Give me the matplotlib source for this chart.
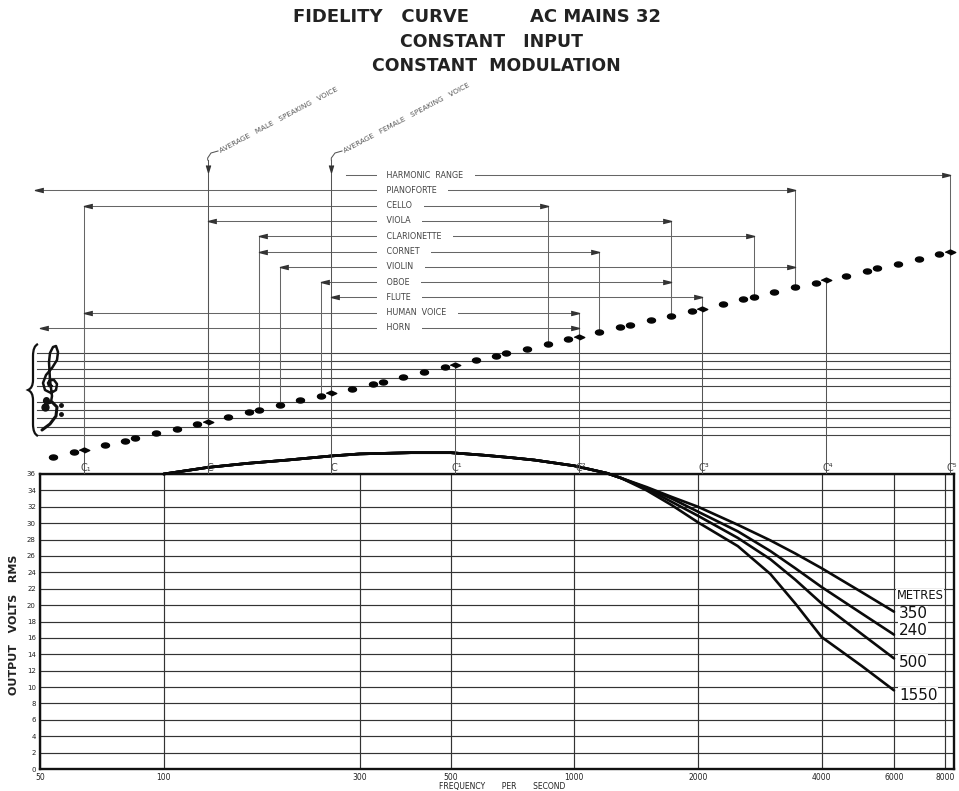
import numpy as np
import matplotlib
matplotlib.use("Agg")
import matplotlib.pyplot as plt
from matplotlib.ticker import NullLocator, NullFormatter
from matplotlib.path import Path
from matplotlib.patches import PathPatch

# ---------------- data ----------------
title_left = "FIDELITY   CURVE"
title_right = "AC MAINS 32"
title_line2 = "CONSTANT   INPUT"
title_line3 = "CONSTANT  MODULATION"

freq_ticks = [50, 100, 300, 500, 1000, 2000, 4000, 6000, 8000]
freq_tick_labels = ["50", "100", "300", "500", "1000", "2000", "4000", "6000", "8000"]
volt_ticks = [0, 2, 4, 6, 8, 10, 12, 14, 16, 18, 20, 22, 24, 26, 28, 30, 32, 34, 36]

# common part of the fidelity curve (all wavelengths coincide)
f_common = [100, 128, 160, 200, 256, 300, 400, 500, 600, 700, 800, 1000, 1200, 1300]
v_common = [36.0, 36.8, 37.3, 37.7, 38.2, 38.45, 38.6, 38.6, 38.3, 38.0, 37.7, 37.0, 36.1, 35.5]

# split part, one series per wavelength (metres)
f_split = [1500, 1726, 2000, 2500, 3000, 3450, 4000, 5000, 6000]
metres = ["350", "240", "500", "1550"]
v_350 = [34.4, 33.2, 32.0, 29.8, 27.9, 26.3, 24.5, 21.6, 19.2]
v_240 = [34.3, 33.0, 31.4, 29.0, 26.6, 24.5, 22.2, 19.0, 16.4]
v_500 = [34.2, 32.6, 30.9, 28.2, 25.6, 23.1, 20.2, 16.5, 13.5]
v_1550 = [34.0, 32.2, 30.1, 27.2, 23.8, 20.2, 16.1, 12.6, 9.6]
metre_series = [v_350, v_240, v_500, v_1550]

# white-key pitches (scientific pitch, C = 64 * 2^n)
note_freqs = [53.8, 60.4,
              64, 71.8, 80.6, 85.4, 95.9, 107.6, 120.8,
              128, 143.7, 161.3, 170.9, 191.8, 215.3, 241.6,
              256, 287.4, 322.5, 341.7, 383.6, 430.5, 483.3,
              512, 574.7, 645.1, 683.4, 767.1, 861.1, 966.5,
              1024, 1149.4, 1290.1, 1366.8, 1534.2, 1722.1, 1933.0,
              2048, 2298.8, 2580.3, 2733.7, 3068.5, 3444.3, 3866.0,
              4096, 4597.6, 5160.6, 5467.4, 6137.0, 6888.6, 7732.0,
              8192]
c_freqs = [64, 128, 256, 512, 1024, 2048, 4096, 8192]
c_labels = ["C\u2081", "C", "C", "C\u00b9", "C\u00b2", "C\u00b3", "C\u2074", "C\u2075"]

instruments = ["HARMONIC  RANGE", "PIANOFORTE", "CELLO", "VIOLA", "CLARIONETTE", "CORNET",
               "VIOLIN", "OBOE", "FLUTE", "HUMAN  VOICE", "HORN"]
range_low = [278, 48.6, 64, 128, 170.9, 170.9, 191.8, 241.6, 256, 64, 50]
range_high = [8192, 3444, 861, 1722, 2734, 1149, 3444, 1722, 2048, 1024, 1024]
low_drop = [False, False, True, True, True, True, True, True, True, True, False]

voice_labels = ["AVERAGE   MALE   SPEAKING   VOICE", "AVERAGE   FEMALE   SPEAKING   VOICE"]
voice_freqs = [128, 256]

# ---------------- layout helpers ----------------
W, H = 959, 791
X0, X1 = 40, 954
F0, F1 = 50, 8400
OCT_PX = 28.29


def fx(px):
    return F0 * (F1 / F0) ** ((px - X0) / (X1 - X0))


def ly(py):
    return 6 + (450 - py) / OCT_PX


INK = "#222222"

fig = plt.figure(figsize=(W / 100, H / 100), dpi=100)
fig.patch.set_facecolor("white")

# ---------------- bottom chart ----------------
ax = fig.add_axes([X0 / W, (H - 769) / H, (X1 - X0) / W, (769 - 474) / H])
ax.set_xscale("log")
ax.set_xlim(F0, F1)
ax.set_ylim(0, 36)
ax.set_xticks(freq_ticks)
ax.set_xticklabels(freq_tick_labels, fontsize=5.5, color=INK)
ax.xaxis.set_minor_locator(NullLocator())
ax.xaxis.set_minor_formatter(NullFormatter())
ax.set_yticks(volt_ticks)
ax.set_yticklabels([str(v) for v in volt_ticks], fontsize=5, color=INK)
ax.tick_params(length=0, pad=3)
ax.grid(True, color="#333333", lw=0.85)
ax.set_axisbelow(True)
for s in ax.spines.values():
    s.set_linewidth(1.7)
    s.set_color("#111111")

for name, vals in zip(metres, metre_series):
    ax.plot(f_common + f_split, v_common + vals, color="#0a0a0a", lw=1.9,
            clip_on=False, solid_joinstyle="round", solid_capstyle="round", zorder=5)

label_dy = [-1.4, 3.0, -2.8, -3.6]
for name, vals, dy in zip(metres, metre_series, label_dy):
    ax.annotate(name, xy=(f_split[-1], vals[-1]), xytext=(3.5, dy), textcoords="offset points",
                fontsize=11, ha="left", va="center", color="#111111",
                bbox=dict(boxstyle="square,pad=0.03", fc="white", ec="none"), zorder=6)
ax.annotate("METRES", xy=(f_split[-1], v_350[-1]), xytext=(2.0, 11.5), textcoords="offset points",
            fontsize=8.3, ha="left", va="center", color="#111111",
            bbox=dict(boxstyle="square,pad=0.05", fc="white", ec="none"), zorder=6)

fig.text(14 / W, 1 - 625 / H, "OUTPUT   VOLTS   RMS", rotation=90, fontsize=8,
         fontweight="bold", ha="center", va="center", color=INK)
fig.text(502 / W, 1 - 786 / H, "FREQUENCY       PER       SECOND", fontsize=5.5,
         ha="center", va="center", color=INK)

# ---------------- titles ----------------
fig.text(381 / W, 1 - 17 / H, title_left, fontsize=13, fontweight="bold", ha="center", va="center", color=INK)
fig.text(596 / W, 1 - 17 / H, title_right, fontsize=13, fontweight="bold", ha="center", va="center", color=INK)
fig.text(491 / W, 1 - 42 / H, title_line2, fontsize=12.5, fontweight="bold", ha="center", va="center", color=INK)
fig.text(496 / W, 1 - 66 / H, title_line3, fontsize=12.5, fontweight="bold", ha="center", va="center", color=INK)

# ---------------- top (music / ranges) panel ----------------
top = fig.add_axes([X0 / W, (H - 474) / H, (X1 - X0) / W, (474 - 80) / H])
top.set_xscale("log")
top.set_xlim(F0, F1)
top.set_ylim(ly(474), ly(80))
top.axis("off")

# staff lines
staff_px = [353, 361.2, 369.4, 377.6, 385.8, 402, 410.2, 418.4, 426.6, 434.8]
for p in staff_px:
    top.plot([fx(37), 8192], [ly(p)] * 2, color="#444444", lw=0.8, clip_on=False, zorder=1)

row_px = [175 + 15.3 * i for i in range(len(instruments))]
arrow_r = [(-1, 0.25), (0, 0), (-1, -0.25)]
arrow_l = [(1, 0.25), (0, 0), (1, -0.25)]
arrow_d = [(-0.3, 1), (0, 0), (0.3, 1)]

for i, name in enumerate(instruments):
    y = ly(row_px[i])
    lo, hi = range_low[i], range_high[i]
    top.plot([lo, hi], [y, y], color="#666666", lw=0.75, clip_on=False, zorder=2)
    top.plot([hi], [y], marker=arrow_r, ms=12, color="#333333", clip_on=False, zorder=3)
    top.plot([hi, hi], [y, np.log2(hi)], color="#666666", lw=0.75, clip_on=False, zorder=2)
    if low_drop[i]:
        top.plot([lo], [y], marker=arrow_l, ms=12, color="#333333", clip_on=False, zorder=3)
        top.plot([lo, lo], [y, np.log2(lo)], color="#666666", lw=0.75, clip_on=False, zorder=2)
    elif i > 0:
        top.plot([lo], [y], marker=arrow_l, ms=12, color="#333333", clip_on=False, zorder=3)
    top.text(fx(379), y, "   " + name + "    ", fontsize=5.8, color="#444444", ha="left", va="center",
             bbox=dict(boxstyle="square,pad=0.2", fc="white", ec="none"), zorder=4)

# C verticals and labels
for f, lab in zip(c_freqs, c_labels):
    top.plot([f, f], [np.log2(f), ly(474)], color="#555555", lw=0.75, zorder=2)
    top.annotate(lab, xy=(f, ly(474)), xytext=(1.5, 1.0), textcoords="offset points",
                 fontsize=7, color="#444444", ha="center", va="bottom")

# speaking voices
for f, lab, tx in zip(voice_freqs, voice_labels, [220, 344]):
    top.plot([f, f], [ly(160), np.log2(f)], color="#555555", lw=0.75, zorder=2)
    top.plot([f], [ly(172)], marker=arrow_d, ms=10, color="#333333", zorder=3)
    top.plot([f, f, fx(211 + (f == 256) * 124), fx(tx - 2)],
             [ly(160), ly(158), ly(153), ly(151)], color="#555555", lw=0.75, clip_on=False)
    top.text(fx(tx), ly(151), lab, fontsize=5.2, color="#555555", rotation=28,
             rotation_mode="anchor", ha="left", va="center")

# pitch dots
ell = [(1.6 * np.cos(t), np.sin(t)) for t in np.linspace(0, 2 * np.pi, 30)]
dia = [(-1.8, 0), (0, 0.85), (1.8, 0), (0, -0.85)]
plain = [f for f in note_freqs if f not in c_freqs]
top.plot(plain, np.log2(plain), ls="none", marker=ell, ms=5.8, color="#050505", zorder=6, clip_on=False)
cf = [f for f in note_freqs if f in c_freqs]
top.plot(cf, np.log2(cf), ls="none", marker=dia, ms=7.5, color="#050505", zorder=6, clip_on=False)

# ---------------- brace and clefs (no installed font has the clef glyphs) ----------------
ov = fig.add_axes([0, 0, 1, 1])
ov.set_xlim(0, W)
ov.set_ylim(H, 0)
ov.axis("off")
verts = [(38, 344), (33, 346), (33, 356), (33, 380), (33, 388), (28, 390),
         (33, 392), (33, 400), (33, 424), (33, 434), (38, 436)]
codes = [Path.MOVETO, Path.CURVE3, Path.CURVE3, Path.LINETO, Path.CURVE3, Path.CURVE3,
         Path.CURVE3, Path.CURVE3, Path.LINETO, Path.CURVE3, Path.CURVE3]
ov.add_patch(PathPatch(Path(verts, codes), fc="none", ec="#111111", lw=1.6))

# treble clef shape
treble = [(52, 386), (49, 386), (48, 383), (50, 380), (54, 380), (57, 384), (56, 390),
          (51, 393), (45, 390), (43, 383), (46, 375), (52, 368), (57, 360), (58, 352),
          (56, 346), (53, 347), (50, 353), (49, 362), (50, 380), (52, 396), (51, 402),
          (47, 404), (44, 401)]
ov.plot([p[0] for p in treble], [p[1] for p in treble], color="#111111", lw=1.8,
        solid_joinstyle="round", solid_capstyle="round")
ov.plot([45.5], [400], "o", ms=4, color="#111111")
# bass clef shape
bass = [(44, 407), (46, 403), (52, 402), (57, 407), (56, 416), (50, 424), (42, 430)]
ov.plot([p[0] for p in bass], [p[1] for p in bass], color="#111111", lw=2.2,
        solid_joinstyle="round", solid_capstyle="round")
ov.plot([45], [407], "o", ms=5, color="#111111")
ov.plot([61, 61], [405, 414], "o", ls="none", ms=2.5, color="#111111")

fig.savefig("out.png", dpi=100, facecolor="white")
